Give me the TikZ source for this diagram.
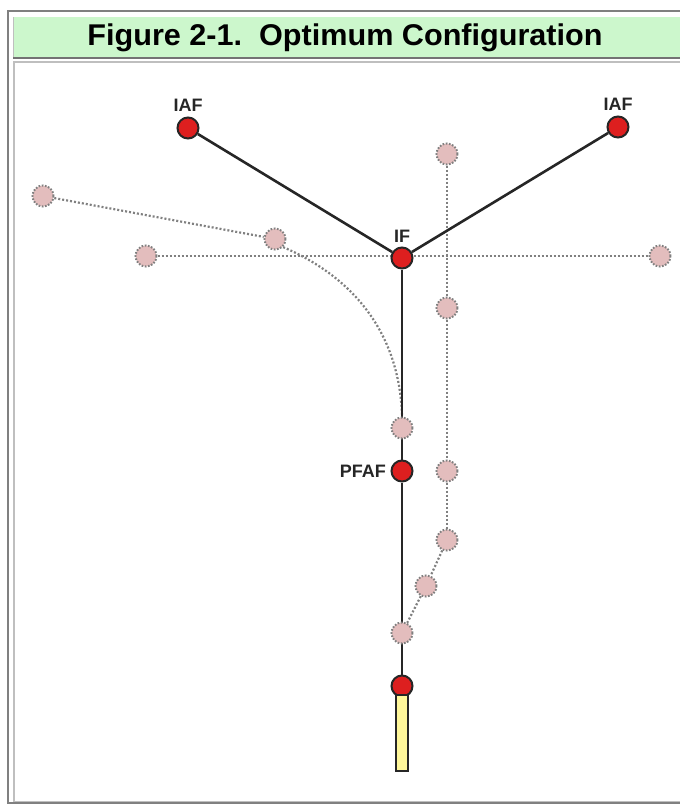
\documentclass[tikz,border=0pt]{standalone}
\usepackage{fontspec}
\setmainfont{Liberation Sans}
\usetikzlibrary{backgrounds}

\definecolor{fixred}{HTML}{DD1F1F}
\definecolor{ghostpink}{HTML}{E3BDBD}
\definecolor{titlegreen}{HTML}{CCF7CC}
\definecolor{rwyellow}{HTML}{FFF79A}

\begin{document}
\begin{tikzpicture}[
    x=1pt, y=-1pt,
    fix/.style={circle, draw=black!85, fill=fixred, line width=2pt, minimum size=21pt, inner sep=0pt},
    ghost/.style={circle, draw=gray, fill=ghostpink, dash pattern=on 1.6pt off 1.6pt, line width=2pt, minimum size=21pt, inner sep=0pt},
    route/.style={draw=black!85, line width=2.6pt},
    alt/.style={draw=black!50, dash pattern=on 2pt off 2pt, line width=2.2pt},
    lbl/.style={font=\fontsize{18}{18}\selectfont\bfseries, text=black!85}
]
\useasboundingbox (0,0) rectangle (680,804);

% frame and title
\draw[gray, line width=2pt] (8,804) -- (8,11) -- (680,11);
\fill[titlegreen] (13,17) rectangle (680,57);
\draw[black!55, line width=2pt] (13,58) -- (680,58);
\draw[black!25, line width=1pt] (13,17) -- (13,57);
\draw[black!25, line width=1.5pt] (680,62) -- (14,62) -- (14,802) -- (680,802);
\draw[gray, line width=1.5pt] (8,803) -- (680,803);
\node[font=\fontsize{30}{30}\selectfont\bfseries, xscale=1.02] (title) at (345,38) {Figure 2-1.\ \ Optimum Configuration};

% fixes on the optimum route
\node[fix] (iafl) at (188,128) {};
\node[fix] (iafr) at (618,127) {};
\node[fix] (if) at (402,258) {};
\node[fix] (pfaf) at (402,471) {};
\node[fix] (thr) at (402,686) {};
\node[lbl, above=1pt] at (iafl.north) {IAF};
\node[lbl, above=1pt] at (iafr.north) {IAF};
\node[lbl, above=0pt] at (if.north) {IF};
\node[lbl, left=1pt] at (pfaf.west) {PFAF};

% runway
\node[draw=black!85, fill=rwyellow, line width=2pt, minimum width=12pt, minimum height=76pt, inner sep=0pt, anchor=north] (rwy) at (402,694) {};

% other possible fixes
\node[ghost] (g1) at (43,196) {};
\node[ghost] (g2) at (275,239) {};
\node[ghost] (g3) at (146,256) {};
\node[ghost] (g4) at (660,256) {};
\node[ghost] (g5) at (447,154) {};
\node[ghost] (g6) at (447,308) {};
\node[ghost] (g7) at (402,428) {};
\node[ghost] (g8) at (447,471) {};
\node[ghost] (g9) at (447,540) {};
\node[ghost] (g10) at (426,586) {};
\node[ghost] (g11) at (402,633) {};

\begin{scope}[on background layer]
\draw[alt] (g1) -- (g2);
\draw[alt] (g2.south east) .. controls (360,280) and (400,340) .. (g7.north);
\draw[alt] (g3) -- (g4);
\draw[alt] (g5) -- (g6) -- (g8) -- (g9);
\draw[alt] (g9) -- (g10) -- (g11);
\draw[route] (iafl) -- (if);
\draw[route] (iafr) -- (if);
\draw[route] (if) -- (pfaf) -- (thr);
\end{scope}
\end{tikzpicture}
\end{document}
